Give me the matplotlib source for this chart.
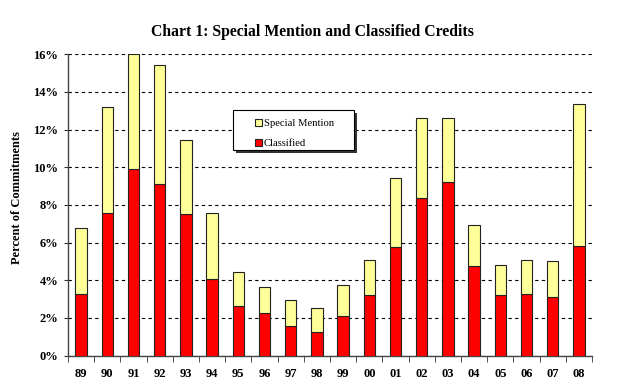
import matplotlib
matplotlib.use('Agg')
import matplotlib.pyplot as plt
import numpy as np
from matplotlib.ticker import FixedLocator, FuncFormatter
from matplotlib.patches import Rectangle

# values (percent of commitments)
years = ['89', '90', '91', '92', '93', '94', '95', '96', '97', '98',
         '99', '00', '01', '02', '03', '04', '05', '06', '07', '08']
classified = [3.3, 7.56, 9.9, 9.1, 7.52, 4.05, 2.63, 2.27, 1.56, 1.26,
              2.08, 3.24, 5.75, 8.39, 9.24, 4.76, 3.24, 3.29, 3.13, 5.84]
total = [6.76, 13.18, 16.03, 15.41, 11.43, 7.56, 4.43, 3.65, 2.94, 2.55,
         3.74, 5.06, 9.42, 12.6, 12.6, 6.92, 4.81, 5.06, 5.01, 13.36]
special = [t - c for t, c in zip(total, classified)]

plt.rcParams['font.family'] = ['Liberation Serif', 'DejaVu Serif']

fig = plt.figure(figsize=(6.25, 3.9), dpi=100)
ax = fig.add_axes([0.1088, 0.088, 0.8384, 0.773])

x = np.arange(len(years))
ax.bar(x, classified, width=0.43, color='#ff0000', edgecolor='#222222',
       linewidth=0.8, label='Classified', zorder=3)
ax.bar(x, special, width=0.43, bottom=classified, color='#ffff99',
       edgecolor='#222222', linewidth=0.8, label='Special Mention', zorder=3)

ax.set_xlim(-0.5, len(years) - 0.5)
ax.set_ylim(0, 16)
ax.set_yticks(np.arange(0, 17, 2))
ax.yaxis.set_major_formatter(FuncFormatter(lambda v, p: '%d%%' % v))
ax.yaxis.grid(True, linestyle=(0, (3, 3)), color='black', linewidth=0.8)
ax.set_axisbelow(True)

ax.set_xticks(x)
ax.set_xticklabels(years)
ax.xaxis.set_minor_locator(FixedLocator(np.arange(-0.5, len(years), 1)))
ax.tick_params(axis='x', which='major', length=0, pad=9)
ax.tick_params(axis='x', which='minor', length=4, direction='out', color='#333333')
ax.tick_params(axis='y', length=3, direction='out', color='#333333', pad=4)
for lab in ax.get_xticklabels() + ax.get_yticklabels():
    lab.set_fontweight('bold')
    lab.set_fontsize(9)

for s in ['top', 'right']:
    ax.spines[s].set_visible(False)
for s in ['left', 'bottom']:
    ax.spines[s].set_color('#444444')
    ax.spines[s].set_linewidth(1.0)

ax.set_ylabel('Percent of Commitments', fontsize=9, fontweight='bold')
ax.yaxis.set_label_coords(-0.086, 0.523)
fig.text(0.5, 0.918, 'Chart 1: Special Mention and Classified Credits',
         ha='center', va='center', fontsize=11.3, fontweight='bold')

# legend box with a hard shadow
bx0, by0, bw, bh = 0.315, 0.683, 0.231, 0.133
ax.add_patch(Rectangle((bx0 + 0.006, by0 - 0.010), bw, bh, transform=ax.transAxes,
                       facecolor='#333333', edgecolor='none', zorder=4, clip_on=False))
ax.add_patch(Rectangle((bx0, by0), bw, bh, transform=ax.transAxes,
                       facecolor='white', edgecolor='black', linewidth=0.8,
                       zorder=4.5, clip_on=False))

handles, labels = ax.get_legend_handles_labels()
leg = ax.legend(handles[::-1], labels[::-1], loc='center left',
                bbox_to_anchor=(bx0 + 0.041, 0.737), borderaxespad=0,
                frameon=False, fontsize=7.7, handlelength=0.7,
                handleheight=0.7, handletextpad=0.15, labelspacing=0.95,
                borderpad=0)
leg.set_zorder(5)

plt.savefig('out.png', dpi=100)
